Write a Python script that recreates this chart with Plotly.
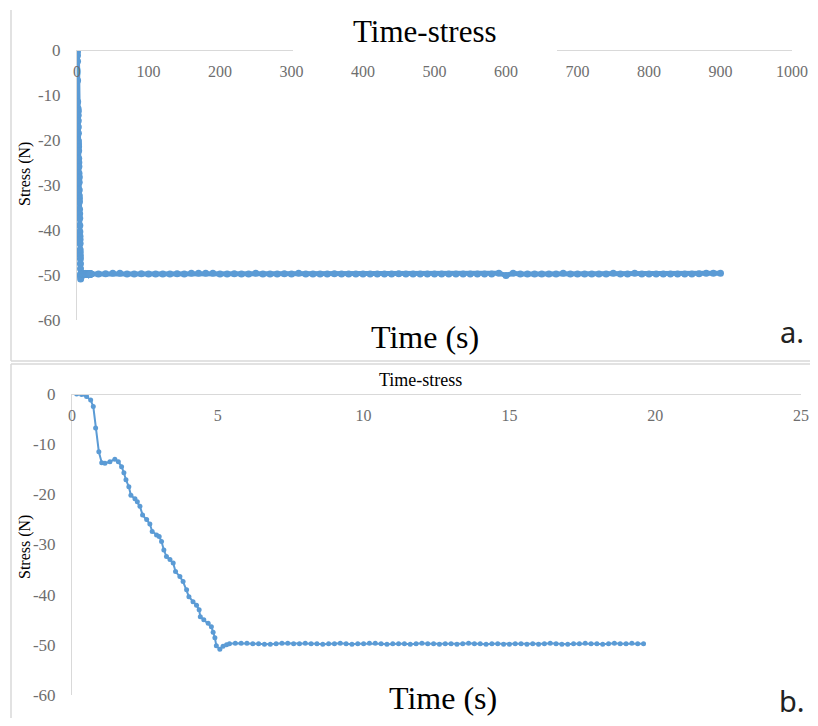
import plotly.graph_objects as go

# ---------------- data ----------------
# initial loading ramp (seconds, N)
ramp_time = [0.16, 0.33, 0.50, 0.64, 0.73, 0.81, 0.92, 1.02, 1.13, 1.30, 1.47, 1.59,
             1.70, 1.78, 1.85, 1.95, 2.02, 2.16, 2.24, 2.33, 2.42, 2.56, 2.67, 2.75,
             2.90, 2.99, 3.07, 3.15, 3.24, 3.36, 3.47, 3.55, 3.70, 3.81, 3.93, 4.01,
             4.15, 4.27, 4.36, 4.40, 4.52, 4.67, 4.78, 4.84, 4.90, 4.95, 5.07, 5.18, 5.30]
ramp_stress = [0.0, -0.1, -0.5, -1.2, -2.5, -6.8, -11.5, -13.7, -13.8, -13.5, -13.0, -13.5,
               -14.5, -15.7, -17.1, -18.5, -20.2, -20.9, -21.5, -22.4, -24.1, -25.0, -25.9, -27.4,
               -28.1, -28.4, -29.4, -31.1, -32.4, -33.0, -33.7, -35.4, -36.4, -37.4, -39.0, -40.4,
               -41.4, -42.1, -43.0, -44.4, -45.0, -45.7, -46.4, -47.5, -48.6, -50.2, -50.9, -50.3, -50.0]

# plateau within first 20 s
plateau_time = [5.4, 5.6, 5.8, 6.0, 6.2, 6.4, 6.6, 6.8, 7.0, 7.2, 7.4, 7.6, 7.8, 8.0, 8.2, 8.4,
                8.6, 8.8, 9.0, 9.2, 9.4, 9.6, 9.8, 10.0, 10.2, 10.4, 10.6, 10.8, 11.0, 11.2, 11.4,
                11.6, 11.8, 12.0, 12.2, 12.4, 12.6, 12.8, 13.0, 13.2, 13.4, 13.6, 13.8, 14.0, 14.2,
                14.4, 14.6, 14.8, 15.0, 15.2, 15.4, 15.6, 15.8, 16.0, 16.2, 16.4, 16.6, 16.8, 17.0,
                17.2, 17.4, 17.6, 17.8, 18.0, 18.2, 18.4, 18.6, 18.8, 19.0, 19.2, 19.4, 19.6]
plateau_stress = [-49.8, -49.7, -49.7, -49.7, -49.8, -49.8, -49.9, -49.9, -49.8, -49.7, -49.7, -49.8,
                  -49.8, -49.7, -49.8, -49.8, -49.9, -49.8, -49.8, -49.7, -49.8, -49.9, -49.8, -49.8,
                  -49.7, -49.7, -49.8, -49.9, -49.8, -49.8, -49.8, -49.9, -49.8, -49.7, -49.8, -49.8,
                  -49.9, -49.8, -49.8, -49.9, -49.8, -49.7, -49.8, -49.8, -49.9, -49.8, -49.8, -49.9,
                  -49.9, -49.8, -49.8, -49.9, -49.8, -49.9, -49.8, -49.7, -49.8, -49.9, -49.9, -49.8,
                  -49.8, -49.7, -49.8, -49.8, -49.9, -49.8, -49.7, -49.8, -49.8, -49.7, -49.8, -49.8]

# long-term hold (seconds, N)
hold_time = [30, 40, 50, 60, 70, 80, 90, 100, 110, 120, 130, 140, 150, 160, 170, 180, 190, 200,
             210, 220, 230, 240, 250, 260, 270, 280, 290, 300, 310, 320, 330, 340, 350, 360, 370,
             380, 390, 400, 410, 420, 430, 440, 450, 460, 470, 480, 490, 500, 510, 520, 530, 540,
             550, 560, 570, 580, 590, 600, 610, 620, 630, 640, 650, 660, 670, 680, 690, 700, 710,
             720, 730, 740, 750, 760, 770, 780, 790, 800, 810, 820, 830, 840, 850, 860, 870, 880,
             890, 900]
hold_stress = [-49.8, -49.7, -49.6, -49.6, -49.8, -49.8, -49.7, -49.8, -49.8, -49.8,
               -49.8, -49.7, -49.8, -49.6, -49.6, -49.6, -49.6, -49.8, -49.8, -49.7,
               -49.8, -49.8, -49.6, -49.8, -49.8, -49.8, -49.7, -49.8, -49.6, -49.8,
               -49.8, -49.8, -49.8, -49.7, -49.8, -49.8, -49.8, -49.8, -49.8, -49.8,
               -49.8, -49.8, -49.7, -49.8, -49.8, -49.8, -49.8, -49.8, -49.8, -49.8,
               -49.8, -49.8, -49.8, -49.8, -49.8, -49.8, -49.6, -50.1, -49.6, -49.8,
               -49.8, -49.8, -49.8, -49.8, -49.8, -49.6, -49.8, -49.8, -49.8, -49.8,
               -49.8, -49.8, -49.6, -49.8, -49.8, -49.6, -49.8, -49.8, -49.8, -49.8,
               -49.8, -49.8, -49.8, -49.8, -49.7, -49.6, -49.6, -49.6]

top_xticks = [0, 100, 200, 300, 400, 500, 600, 700, 800, 900, 1000]
bottom_xticks = [0, 5, 10, 15, 20, 25]
yticks = [0, -10, -20, -30, -40, -50, -60]

assert len(ramp_time) == len(ramp_stress)
assert len(plateau_time) == len(plateau_stress)
assert len(hold_time) == len(hold_stress)

# ---------------- figure ----------------
# page keeps its default 8px body margin: figure is 16px smaller than the window,
# positions below are given in window pixels
OFF = 8
W, H = 818 - 2 * OFF, 726 - 2 * OFF
BLUE = "#5B9BD5"
SERIF = "Liberation Serif, Times New Roman, serif"
TICKC = "#6e6e6e"
LINEC = "#d9d9d9"


def px(x):
    return (x - OFF) / W


def py(y):
    return 1 - (y - OFF) / H


full_t = ramp_time + plateau_time + hold_time
full_s = ramp_stress + plateau_stress + hold_stress
short_t = ramp_time + plateau_time
short_s = ramp_stress + plateau_stress

fig = go.Figure()
fig.add_trace(go.Scatter(x=full_t, y=full_s, mode="lines+markers",
                         line=dict(color=BLUE, width=5),
                         marker=dict(color=BLUE, size=7),
                         xaxis="x", yaxis="y", showlegend=False))
fig.add_trace(go.Scatter(x=short_t, y=short_s, mode="lines+markers",
                         line=dict(color=BLUE, width=2),
                         marker=dict(color=BLUE, size=5),
                         xaxis="x2", yaxis="y2", showlegend=False))
# empty traces that carry the label axes (drawn along the y = 0 line)
fig.add_trace(go.Scatter(x=[], y=[], xaxis="x3", yaxis="y3", showlegend=False, hoverinfo="skip"))
fig.add_trace(go.Scatter(x=[], y=[], xaxis="x4", yaxis="y4", showlegend=False, hoverinfo="skip"))

hidden_x = dict(visible=False, fixedrange=True, automargin=False)
label_x = dict(side="bottom", showline=True, linecolor=LINEC, linewidth=1, automargin=False,
               showgrid=False, zeroline=False, ticks="", ticklabelstandoff=7,
               tickfont=dict(family=SERIF, size=16, color=TICKC), fixedrange=True)
ycommon = dict(showline=True, linecolor=LINEC, linewidth=1, showgrid=False, zeroline=False,
               ticks="", range=[-60, 0], tickvals=yticks, ticktext=[str(v) for v in yticks],
               ticklabelstandoff=12, automargin=False,
               tickfont=dict(family=SERIF, size=17, color=TICKC), fixedrange=True)
hidden_y = dict(visible=False, fixedrange=True, range=[0, 1], automargin=False)

fig.update_layout(
    width=W, height=H, margin=dict(l=0, r=0, t=0, b=0, pad=0, autoexpand=False), autosize=False,
    showlegend=False,
    paper_bgcolor="white", plot_bgcolor="rgba(0,0,0,0)",
    xaxis=dict(hidden_x, domain=[px(77), px(792)], range=[0, 1000], anchor="y"),
    yaxis=dict(ycommon, domain=[py(320), py(50)], anchor="x"),
    xaxis3=dict(label_x, domain=[px(77), px(792)], matches="x", tickvals=top_xticks,
                ticktext=[str(v) for v in top_xticks], anchor="y3"),
    yaxis3=dict(hidden_y, domain=[py(50), py(49)], anchor="x3"),
    xaxis2=dict(hidden_x, domain=[px(72), px(801)], range=[0, 25], anchor="y2"),
    yaxis2=dict(ycommon, domain=[py(695), py(394)], anchor="x2"),
    xaxis4=dict(label_x, domain=[px(72), px(801)], matches="x2", tickvals=bottom_xticks,
                ticktext=[str(v) for v in bottom_xticks], anchor="y4"),
    yaxis4=dict(hidden_y, domain=[py(394), py(393)], anchor="x4"),
)

# panel frames
frame = dict(color=LINEC, width=1.5)
fig.add_shape(type="line", xref="paper", yref="paper", x0=px(11), x1=px(11), y0=py(10), y1=py(361), line=frame)
fig.add_shape(type="line", xref="paper", yref="paper", x0=px(11), x1=1, y0=py(361), y1=py(361), line=frame)
fig.add_shape(type="line", xref="paper", yref="paper", x0=px(11), x1=1, y0=py(364), y1=py(364), line=frame)
fig.add_shape(type="line", xref="paper", yref="paper", x0=px(11), x1=px(11), y0=py(364), y1=0, line=frame)
# white title backing that hides part of the top axis line
fig.add_shape(type="rect", xref="paper", yref="paper", x0=px(293), x1=px(557), y0=py(54), y1=py(14),
              fillcolor="white", line=dict(width=0), layer="above")

ann = []
ann.append(dict(text="Time-stress", x=px(425), y=py(32), xref="paper", yref="paper",
                showarrow=False, font=dict(family=SERIF, size=31, color="black"),
                xanchor="center", yanchor="middle"))
ann.append(dict(text="Time (s)", x=px(425), y=py(337), xref="paper", yref="paper",
                showarrow=False, font=dict(family=SERIF, size=32, color="black"),
                xanchor="center", yanchor="middle"))
ann.append(dict(text="a.", x=px(792), y=py(331), xref="paper", yref="paper",
                showarrow=False, font=dict(family="Noto Sans, sans-serif", size=29, color="#222"),
                xanchor="center", yanchor="middle"))
ann.append(dict(text="Stress (N)", x=px(25), y=py(174), xref="paper", yref="paper",
                showarrow=False, textangle=-90, font=dict(family=SERIF, size=16, color="black"),
                xanchor="center", yanchor="middle"))
ann.append(dict(text="Time-stress", x=px(420), y=py(380), xref="paper", yref="paper",
                showarrow=False, font=dict(family=SERIF, size=18, color="black"),
                xanchor="center", yanchor="middle"))
ann.append(dict(text="Time (s)", x=px(443), y=0, xref="paper", yref="paper",
                showarrow=False, font=dict(family=SERIF, size=32, color="black"),
                xanchor="center", yanchor="bottom"))
ann.append(dict(text="b.", x=px(792), y=py(700), xref="paper", yref="paper",
                showarrow=False, font=dict(family="Noto Sans, sans-serif", size=29, color="#222"),
                xanchor="center", yanchor="middle"))
ann.append(dict(text="Stress (N)", x=px(25), y=py(547), xref="paper", yref="paper",
                showarrow=False, textangle=-90, font=dict(family=SERIF, size=16, color="black"),
                xanchor="center", yanchor="middle"))
fig.update_layout(annotations=ann)

fig.write_html("out.html", config={"displayModeBar": False, "responsive": False})
